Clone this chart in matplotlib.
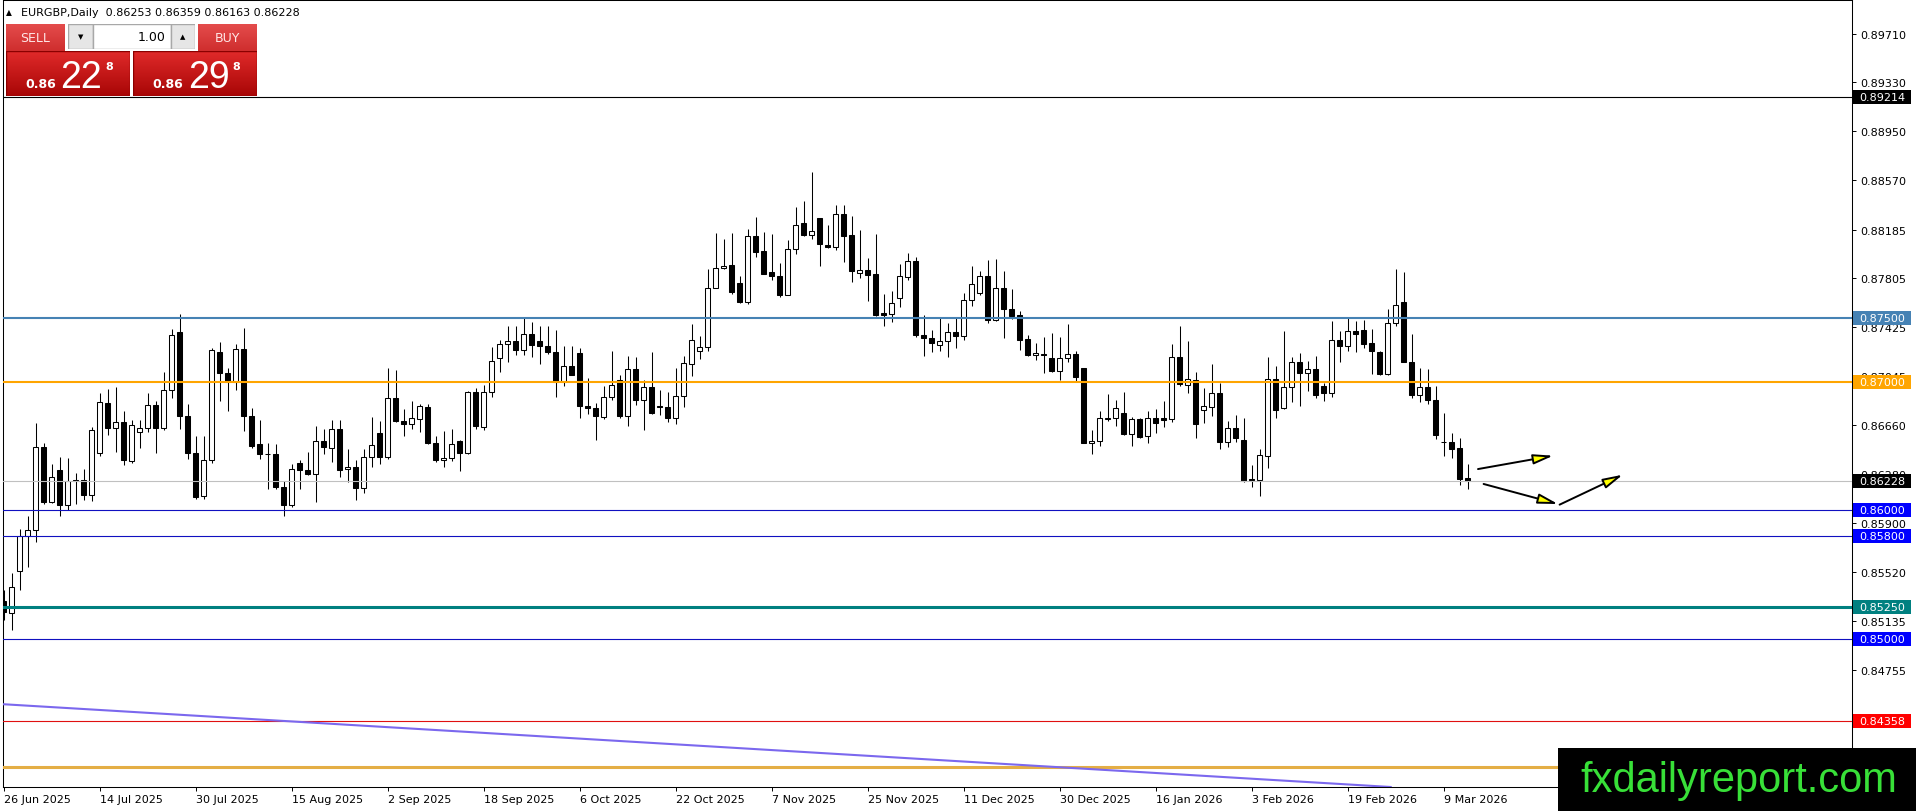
import matplotlib
matplotlib.use('Agg')
import matplotlib.pyplot as plt
import matplotlib.transforms as mtransforms
from matplotlib.patches import Rectangle
from matplotlib.colors import LinearSegmentedColormap
import numpy as np
import pandas as pd

W, H = 1916, 812

# EURGBP daily candles, 26 Jun 2025 .. 12 Mar 2026
opens = [
    0.85298, 0.85202, 0.85530, 0.85797, 0.85846, 0.86494, 0.86068, 0.86311, 0.86042, 0.86239,
    0.86239, 0.86120, 0.86445, 0.86836, 0.86642, 0.86688, 0.86381, 0.86611, 0.86644, 0.86820,
    0.86642, 0.86936, 0.87386, 0.86737, 0.86448, 0.86112, 0.86389, 0.87234, 0.87071, 0.87001,
    0.87254, 0.86737, 0.86518, 0.86440, 0.86435, 0.86184, 0.86042, 0.86370, 0.86316, 0.86285,
    0.86541, 0.86484, 0.86634, 0.86324, 0.86339, 0.86174, 0.86417, 0.86603, 0.86414, 0.86875,
    0.86696, 0.86670, 0.86712, 0.86807, 0.86525, 0.86391, 0.86409, 0.86536, 0.86443, 0.86921,
    0.86650, 0.86921, 0.87185, 0.87293, 0.87317, 0.87244, 0.87374, 0.87319, 0.87281, 0.87234,
    0.87001, 0.87123, 0.87224, 0.86815, 0.86798, 0.86728, 0.86883, 0.87012, 0.86733, 0.87100,
    0.86862, 0.86960, 0.86811, 0.86806, 0.86721, 0.86888, 0.87141, 0.87237, 0.87268, 0.87727,
    0.87887, 0.87912, 0.87765, 0.87624, 0.88137, 0.88016, 0.87851, 0.87827, 0.87673, 0.88036,
    0.88232, 0.88142, 0.88276, 0.88067, 0.88049, 0.88307, 0.88140, 0.87848, 0.87869, 0.87838,
    0.87533, 0.87531, 0.87653, 0.87815, 0.87939, 0.87366, 0.87338, 0.87289, 0.87320, 0.87389,
    0.87356, 0.87637, 0.87691, 0.87825, 0.87480, 0.87730, 0.87567, 0.87518, 0.87330, 0.87209,
    0.87219, 0.87183, 0.87085, 0.87188, 0.87219, 0.87111, 0.86522, 0.86538, 0.86711, 0.86716,
    0.86757, 0.86597, 0.86711, 0.86577, 0.86719, 0.86716, 0.86708, 0.87196, 0.86979, 0.87013,
    0.86778, 0.86806, 0.86909, 0.86528, 0.86644, 0.86546, 0.86244, 0.86239, 0.86424, 0.87018,
    0.86799, 0.86961, 0.87155, 0.87069, 0.87103, 0.86966, 0.86915, 0.87327, 0.87276, 0.87397,
    0.87405, 0.87302, 0.87235, 0.87057, 0.87456, 0.87622, 0.87155, 0.86897, 0.86956, 0.86860,
    0.86530, 0.86530, 0.86484, 0.86253,
]
highs = [
    0.85380, 0.85512, 0.85853, 0.85952, 0.86681, 0.86520, 0.86357, 0.86417, 0.86409, 0.86293,
    0.86324, 0.86652, 0.86913, 0.86944, 0.86960, 0.86776, 0.86699, 0.86706, 0.86913, 0.86849,
    0.87079, 0.87412, 0.87526, 0.86828, 0.86577, 0.86577, 0.87262, 0.87306, 0.87107, 0.87296,
    0.87417, 0.86797, 0.86706, 0.86526, 0.86518, 0.86228, 0.86357, 0.86388, 0.86456, 0.86655,
    0.86629, 0.86706, 0.86699, 0.86479, 0.86388, 0.86474, 0.86725, 0.86694, 0.87107, 0.87094,
    0.86792, 0.86854, 0.86828, 0.86831, 0.86582, 0.86616, 0.86634, 0.86544, 0.86931, 0.86950,
    0.86973, 0.87270, 0.87327, 0.87436, 0.87436, 0.87495, 0.87464, 0.87431, 0.87436, 0.87405,
    0.87281, 0.87281, 0.87262, 0.87030, 0.86837, 0.86971, 0.87242, 0.87056, 0.87198, 0.87193,
    0.87017, 0.87231, 0.86940, 0.86922, 0.87108, 0.87203, 0.87451, 0.87353, 0.87876, 0.88158,
    0.88109, 0.88158, 0.87822, 0.88191, 0.88281, 0.88165, 0.88147, 0.87925, 0.88106, 0.88364,
    0.88410, 0.88635, 0.88276, 0.88217, 0.88372, 0.88372, 0.88294, 0.88178, 0.87967, 0.88152,
    0.87680, 0.87704, 0.87918, 0.88001, 0.87970, 0.87521, 0.87407, 0.87495, 0.87459, 0.87493,
    0.87691, 0.87903, 0.87864, 0.87944, 0.87957, 0.87864, 0.87725, 0.87549, 0.87361, 0.87304,
    0.87345, 0.87382, 0.87351, 0.87446, 0.87237, 0.87111, 0.86626, 0.86770, 0.86904, 0.86855,
    0.86917, 0.86729, 0.86716, 0.86775, 0.86788, 0.86848, 0.87296, 0.87436, 0.87315, 0.87077,
    0.86953, 0.87139, 0.86992, 0.86695, 0.86739, 0.86721, 0.86352, 0.86476, 0.87193, 0.87121,
    0.87397, 0.87193, 0.87224, 0.87165, 0.87204, 0.86992, 0.87477, 0.87397, 0.87495, 0.87474,
    0.87482, 0.87413, 0.87237, 0.87567, 0.87877, 0.87851, 0.87371, 0.87108, 0.87103, 0.86966,
    0.86760, 0.86600, 0.86561, 0.86359,
]
lows = [
    0.85150, 0.85065, 0.85383, 0.85556, 0.85755, 0.86047, 0.86055, 0.85952, 0.86003, 0.86047,
    0.86078, 0.86073, 0.86422, 0.86585, 0.86453, 0.86352, 0.86370, 0.86482, 0.86611, 0.86445,
    0.86624, 0.86872, 0.86634, 0.86401, 0.86091, 0.86086, 0.86370, 0.86849, 0.86771, 0.86939,
    0.86616, 0.86487, 0.86401, 0.86169, 0.86164, 0.85952, 0.86029, 0.86163, 0.86275, 0.86065,
    0.86435, 0.86375, 0.86259, 0.86220, 0.86081, 0.86138, 0.86337, 0.86357, 0.86396, 0.86686,
    0.86577, 0.86634, 0.86608, 0.86518, 0.86378, 0.86337, 0.86383, 0.86306, 0.86438, 0.86629,
    0.86624, 0.86880, 0.87074, 0.87151, 0.87206, 0.87206, 0.87190, 0.87136, 0.87219, 0.86880,
    0.86965, 0.87050, 0.86719, 0.86753, 0.86545, 0.86708, 0.86857, 0.86715, 0.86656, 0.86819,
    0.86625, 0.86746, 0.86739, 0.86687, 0.86674, 0.86803, 0.87043, 0.87180, 0.87237, 0.87727,
    0.87874, 0.87683, 0.87611, 0.87603, 0.87972, 0.87838, 0.87791, 0.87662, 0.87673, 0.87992,
    0.88132, 0.88109, 0.87900, 0.88044, 0.88023, 0.87933, 0.87778, 0.87804, 0.87631, 0.87515,
    0.87438, 0.87469, 0.87580, 0.87789, 0.87351, 0.87201, 0.87232, 0.87240, 0.87193, 0.87260,
    0.87325, 0.87588, 0.87673, 0.87459, 0.87472, 0.87338, 0.87490, 0.87247, 0.87201, 0.87170,
    0.87072, 0.87077, 0.87013, 0.87155, 0.87002, 0.86522, 0.86435, 0.86504, 0.86693, 0.86654,
    0.86587, 0.86504, 0.86561, 0.86520, 0.86600, 0.86651, 0.86685, 0.86969, 0.86915, 0.86566,
    0.86677, 0.86734, 0.86481, 0.86489, 0.86535, 0.86223, 0.86185, 0.86110, 0.86326, 0.86721,
    0.86791, 0.86842, 0.86811, 0.86928, 0.86871, 0.86850, 0.86881, 0.87155, 0.87237, 0.87229,
    0.87263, 0.87062, 0.87054, 0.87054, 0.87431, 0.87152, 0.86871, 0.86842, 0.86829, 0.86553,
    0.86424, 0.86406, 0.86197, 0.86163,
]
closes = [
    0.85207, 0.85401, 0.85797, 0.85846, 0.86494, 0.86068, 0.86262, 0.86042, 0.86228, 0.86228,
    0.86120, 0.86626, 0.86843, 0.86642, 0.86688, 0.86391, 0.86665, 0.86644, 0.86820, 0.86642,
    0.86939, 0.87363, 0.86732, 0.86445, 0.86102, 0.86394, 0.87244, 0.87066, 0.87001, 0.87254,
    0.86732, 0.86500, 0.86440, 0.86435, 0.86184, 0.86042, 0.86324, 0.86313, 0.86280, 0.86541,
    0.86492, 0.86634, 0.86313, 0.86339, 0.86174, 0.86417, 0.86505, 0.86417, 0.86875, 0.86694,
    0.86670, 0.86722, 0.86810, 0.86523, 0.86391, 0.86409, 0.86513, 0.86448, 0.86921, 0.86655,
    0.86921, 0.87164, 0.87293, 0.87317, 0.87244, 0.87374, 0.87283, 0.87275, 0.87229, 0.87001,
    0.87123, 0.87056, 0.86810, 0.86794, 0.86733, 0.86883, 0.86976, 0.86733, 0.87100, 0.86862,
    0.86960, 0.86759, 0.86806, 0.86721, 0.86888, 0.87146, 0.87324, 0.87268, 0.87727, 0.87889,
    0.87905, 0.87701, 0.87624, 0.88137, 0.88011, 0.87840, 0.87825, 0.87675, 0.88036, 0.88222,
    0.88142, 0.88176, 0.88075, 0.88049, 0.88307, 0.88132, 0.87863, 0.87869, 0.87832, 0.87520,
    0.87520, 0.87614, 0.87825, 0.87939, 0.87361, 0.87340, 0.87304, 0.87320, 0.87389, 0.87356,
    0.87637, 0.87763, 0.87825, 0.87480, 0.87730, 0.87565, 0.87511, 0.87325, 0.87209, 0.87227,
    0.87209, 0.87085, 0.87183, 0.87219, 0.87041, 0.86522, 0.86541, 0.86716, 0.86716, 0.86793,
    0.86595, 0.86711, 0.86574, 0.86716, 0.86682, 0.86706, 0.87196, 0.86982, 0.87018, 0.86675,
    0.86809, 0.86909, 0.86528, 0.86644, 0.86566, 0.86228, 0.86236, 0.86427, 0.87018, 0.86780,
    0.86961, 0.87155, 0.87067, 0.87100, 0.86897, 0.86915, 0.87327, 0.87276, 0.87397, 0.87371,
    0.87296, 0.87237, 0.87057, 0.87456, 0.87596, 0.87152, 0.86897, 0.86956, 0.86858, 0.86587,
    0.86528, 0.86476, 0.86244, 0.86228,
]

# trading days (broker has no bars on 25 Dec and 1 Jan)
dates = pd.bdate_range('2025-06-26', '2026-03-12')
dates = dates[~dates.isin(pd.to_datetime(['2025-12-25', '2026-01-01']))]

# horizontal levels drawn on the chart: (price, colour, width)
levels = [
    (0.89214, 'black', 0.8),
    (0.87500, '#4682B4', 1.5),
    (0.87000, '#FFA500', 1.5),
    (0.86228, '#C0C0C0', 0.8),
    (0.86000, '#1010C0', 0.8),
    (0.85800, '#1010C0', 0.8),
    (0.85250, '#008080', 2.2),
    (0.85000, '#1010C0', 0.8),
    (0.84358, '#E01010', 0.8),
    (0.84005, '#E4AE45', 2.2),
]
# price labels with coloured background on the right axis
level_tags = [
    (0.89214, 'black'), (0.87500, '#4682B4'), (0.87000, '#FFA500'),
    (0.86228, 'black'), (0.86000, '#0000FF'), (0.85800, '#0000FF'),
    (0.85250, '#008080'), (0.85000, '#0000FF'), (0.84358, '#FF0000'),
]
price_ticks = [0.89710, 0.89330, 0.88950, 0.88570, 0.88185, 0.87805, 0.87425,
               0.87045, 0.86660, 0.86280, 0.85900, 0.85520, 0.85135, 0.84755]

# falling trend line, two anchor points (bar index, price)
trend_p1 = (0, 0.84491)
trend_p2 = (175, 0.83841)

# forecast arrows: (start bar, start price, end bar, end price)
arrows = [
    (184.3, 0.86321, 193.7, 0.86425),
    (185.0, 0.86205, 194.3, 0.86049),
    (194.5, 0.86044, 202.4, 0.86277),
]

fig = plt.figure(figsize=(W / 100, H / 100), dpi=100)
fig.patch.set_facecolor('white')
ax = fig.add_axes([2.7 / W, 24 / H, (1852 - 2.7) / W, 787 / H])

o = np.array(opens)
hi = np.array(highs)
lo = np.array(lows)
c = np.array(closes)
x = np.arange(len(o))
up = c >= o

ax.vlines(x, lo, hi, color='black', lw=0.75, zorder=2)
ax.bar(x[up], (c - o)[up], bottom=o[up], width=0.6, facecolor='white',
       edgecolor='black', lw=0.75, zorder=3)
ax.bar(x[~up], (o - c)[~up], bottom=c[~up], width=0.6, facecolor='black',
       edgecolor='black', lw=0.75, zorder=3)

for price, col, lw in levels:
    ax.axhline(price, color=col, lw=lw, zorder=4)
ax.axline(trend_p1, trend_p2, color='#7B68EE', lw=1.5, zorder=4)

for x0, y0, x1, y1 in arrows:
    ax.annotate('', xy=(x1, y1), xytext=(x0, y0), annotation_clip=False,
                arrowprops=dict(arrowstyle='-|>,head_length=1.2,head_width=0.3',
                                fc='#FFFF00', ec='black', lw=1.4,
                                shrinkA=0, shrinkB=0), zorder=5)

ax.set_xlim((2.7 - 3.6) / 8, (1852 - 3.6) / 8)
ax.set_ylim(0.83847, 0.89971)

ax.yaxis.tick_right()
ax.set_yticks(price_ticks)
ax.set_yticklabels(['{:.5f}'.format(v) for v in price_ticks])
ax.tick_params(axis='y', length=3, pad=3, width=0.7, labelsize=8)

xt = list(range(0, len(dates), 12))
ax.set_xticks(xt)
ax.set_xticklabels(['{} {}'.format(dates[i].day, dates[i].strftime('%b %Y')) for i in xt])
ax.tick_params(axis='x', length=3, pad=2, width=0.7, labelsize=8)
for lbl in ax.get_xticklabels():
    lbl.set_ha('left')

for s in ax.spines.values():
    s.set_color('black')
    s.set_linewidth(0.75)

# coloured price tags on the right scale
blend = mtransforms.blended_transform_factory(fig.transFigure, ax.transData)
tag_h = 14 * 0.00007782
for price, col in level_tags:
    fig.add_artist(Rectangle((1853 / W, price - tag_h / 2), 58 / W, tag_h,
                             transform=blend, facecolor=col, edgecolor='none', zorder=6))
    fig.text(1859 / W, price, '{:.5f}'.format(price), transform=blend, color='white',
             fontsize=8, va='center', ha='left', zorder=7)

# header
fig.text(6 / W, 1 - 12.5 / H, '\u25b2', fontsize=5.5, va='center')
fig.text(21 / W, 1 - 12.5 / H, 'EURGBP,Daily  0.86253 0.86359 0.86163 0.86228',
         fontsize=8, va='center')


# one-click trading panel
def px_axes(px, py, pw, ph):
    a = fig.add_axes([px / W, 1 - (py + ph) / H, pw / W, ph / H])
    a.set_xlim(0, pw)
    a.set_ylim(ph, 0)
    a.axis('off')
    return a


def red_box(px, py, pw, ph, top, bottom):
    a = px_axes(px, py, pw, ph)
    grad = np.linspace(0, 1, 64).reshape(-1, 1)
    cmap = LinearSegmentedColormap.from_list('box', [top, bottom])
    a.imshow(grad, aspect='auto', cmap=cmap, extent=(0, pw, ph, 0))
    a.set_xlim(0, pw)
    a.set_ylim(ph, 0)
    return a


sell_lo = red_box(6, 52, 124, 45, '#E02A2A', '#A80606')
buy_lo = red_box(133, 52, 124, 45, '#E02A2A', '#A80606')
sell_hi = red_box(6, 25, 59, 27, '#E44C4C', '#CF2E2E')
buy_hi = red_box(198, 25, 59, 27, '#E44C4C', '#CF2E2E')
sell_hi.text(29.5, 13.5, 'SELL', color='#FFE6E6', fontsize=9, ha='center', va='center')
buy_hi.text(29.5, 13.5, 'BUY', color='#FFE6E6', fontsize=9, ha='center', va='center')

for box in (sell_lo, buy_lo):
    box.add_patch(Rectangle((0, 0), 124, 45, fill=False, edgecolor='#8A0000', lw=1))

sell_lo.text(19, 36, '0.86', color='white', fontsize=9, fontweight='bold', va='baseline')
sell_lo.text(54, 36, '22', color='white', fontsize=27, family='Liberation Sans', va='baseline')
sell_lo.text(99, 10, '8', color='white', fontsize=8, fontweight='bold', va='top')
buy_lo.text(19, 36, '0.86', color='white', fontsize=9, fontweight='bold', va='baseline')
buy_lo.text(55, 36, '29', color='white', fontsize=27, family='Liberation Sans', va='baseline')
buy_lo.text(99, 10, '8', color='white', fontsize=8, fontweight='bold', va='top')

spin = px_axes(68, 25, 127, 25)
spin.add_patch(Rectangle((0, 0), 25, 25, facecolor='#E6E6E6', edgecolor='#A8A8A8', lw=1))
spin.add_patch(Rectangle((25, 0), 78, 25, facecolor='white', edgecolor='#A8A8A8', lw=1))
spin.add_patch(Rectangle((103, 0), 24, 25, facecolor='#E6E6E6', edgecolor='#A8A8A8', lw=1))
spin.text(12.5, 12.5, '\u25bc', fontsize=5, ha='center', va='center')
spin.text(115, 12.5, '\u25b2', fontsize=5, ha='center', va='center')
spin.text(98, 12.5, '1.00', fontsize=9, ha='right', va='center')

# watermark
fig.add_artist(Rectangle((1558 / W, 0), (W - 1558) / W, 63 / H,
                         transform=fig.transFigure, facecolor='black',
                         edgecolor='none', zorder=10))
fig.text(1739 / W, 20 / H, 'fxdailyreport.com', color='#38E038', fontsize=30,
         family='Liberation Sans', ha='center', va='baseline', zorder=11)

plt.savefig('out.png', dpi=100)
